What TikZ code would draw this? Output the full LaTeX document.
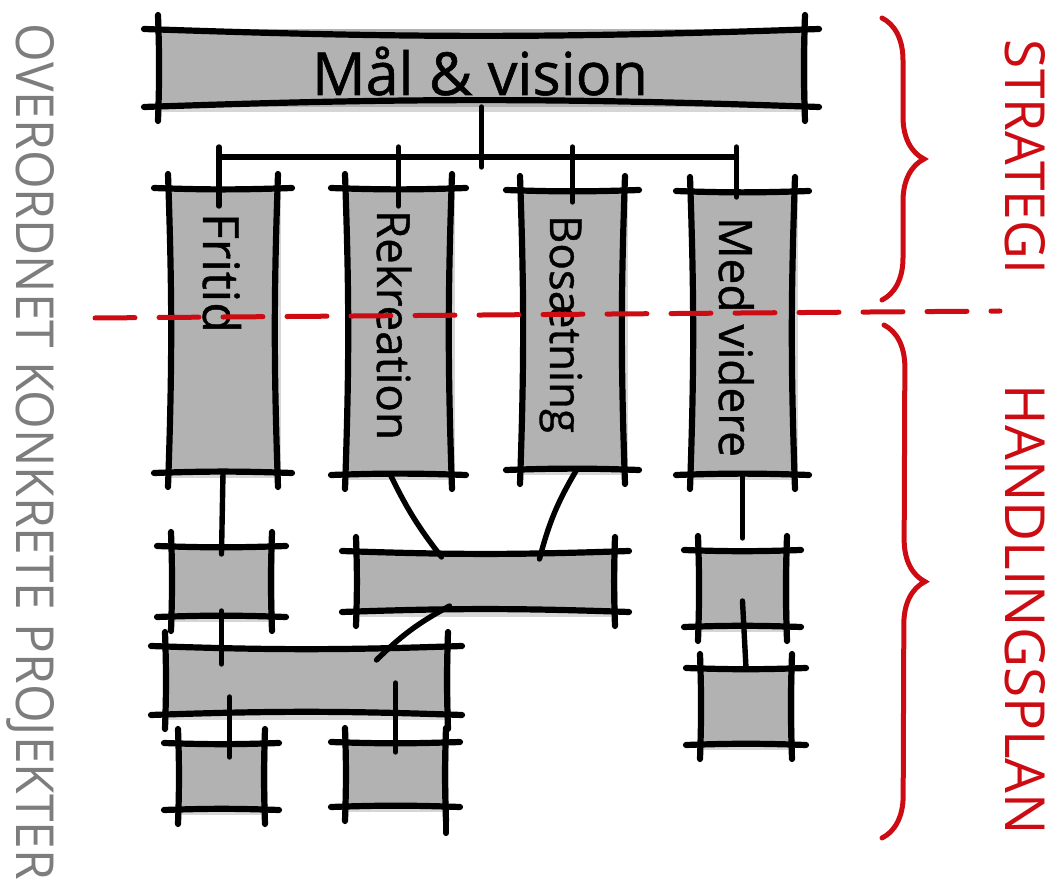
\documentclass[tikz,border=0pt]{standalone}
\usepackage{graphicx}
\usepackage{fontspec}
\setmainfont{Open Sans}
\newfontfamily\sketchfont{Open Sans}[FakeBold=0.9]
\usetikzlibrary{fit,decorations.pathreplacing}
\definecolor{boxgray}{RGB}{178,178,178}
\definecolor{shadegray}{RGB}{214,214,214}
\definecolor{sketchred}{RGB}{204,12,18}
\definecolor{labelgray}{RGB}{125,125,125}
\tikzset{
  boxfill/.style={fill=boxgray, draw=none, inner sep=0pt, outer sep=0pt},
  boxedge/.style={line width=3.1pt, line cap=round, black},
  link/.style={line width=2.7pt, line cap=round, black},
  redmark/.style={line width=2.5pt, line cap=round, sketchred},
  vlabel/.style={rotate=-90, anchor=base west, inner sep=0pt, outer sep=0pt, font=\sketchfont\fontsize{20}{20}\selectfont},
  sidelabel/.style={rotate=-90, inner sep=0pt, outer sep=0pt},
}
\newcommand\sketchbox[5]{%
  \fill[shadegray, xshift=1.5pt, yshift=-2.5pt] (#2,#3) rectangle (#4,#5);
  \node[boxfill, fit={(#2,#3) (#4,#5)}] (#1) {};
  \draw[boxedge] ([xshift=-7pt]#1.north west) to[bend right=2] ([xshift=7pt]#1.north east);
  \draw[boxedge] ([xshift=-7pt]#1.south west) to[bend left=2] ([xshift=7pt]#1.south east);
  \draw[boxedge] ([yshift=7pt]#1.north west) to[bend left=2] ([yshift=-7pt]#1.south west);
  \draw[boxedge] ([yshift=7pt]#1.north east) to[bend right=2] ([yshift=-7pt]#1.south east);
}
\begin{document}
\begin{tikzpicture}[x=0.5pt, y=-0.5pt]
\useasboundingbox (0,0) rectangle (1051,887);

% boxes
\sketchbox{mal}{158}{29}{805}{107}
\sketchbox{fritid}{168}{188}{278}{473}
\sketchbox{rek}{345}{188}{452}{475}
\sketchbox{bos}{520}{190}{625}{470}
\sketchbox{med}{690}{191}{795}{475}
\sketchbox{A}{171}{546}{272}{617}
\sketchbox{B}{356}{551}{615}{612}
\sketchbox{C}{698}{550}{787}{627}
\sketchbox{D}{165}{646}{448}{715}
\sketchbox{E}{700}{668}{792}{745}
\sketchbox{F}{178}{743}{265}{810}
\sketchbox{G}{345}{742}{446}{807}
\draw[boxedge] (G.south east) -- ([yshift=-13pt]G.south east);

% tree connectors
\coordinate (barW) at (218,157);
\draw[link] ([xshift=-2pt]fritid.north |- barW) -- ([xshift=-3pt]med.north |- barW);
\draw[link] (mal.south) -- ([yshift=-5pt]mal.south |- barW);
\draw[link] ([xshift=-2pt,yshift=5pt]fritid.north |- barW) -- ([xshift=-2pt,yshift=-9pt]fritid.north);
\draw[link] ([yshift=5pt]rek.north |- barW) -- ([yshift=-9pt]rek.north);
\draw[link] ([yshift=5pt]bos.north |- barW) -- ([yshift=-6pt]bos.north);
\draw[link] ([xshift=-3pt,yshift=5pt]med.north |- barW) -- ([xshift=-3pt,yshift=-3pt]med.north);

\draw[link] (fritid.south) -- ([yshift=-4pt]A.north);
\draw[link] ([xshift=-4pt]rek.south) to[bend right=6] ([xshift=-22pt,yshift=-3pt]B.north);
\draw[link] ([xshift=2pt]bos.south) to[bend right=8] ([xshift=27pt,yshift=-4pt]B.north);
\draw[link] (med.south) -- ([yshift=6pt]C.north);
\draw[link] ([xshift=-18pt,yshift=3pt]B.south) to[bend right=8] ([xshift=35pt,yshift=-7pt]D.north);
\draw[link] ([yshift=3pt]A.south) -- ([yshift=-9pt]A.south |- D.north);
\draw[link] ([yshift=13pt]C.south) -- (E.north);
\draw[link] ([xshift=4pt,yshift=9pt]F.north |- D.south) -- ([xshift=4pt,yshift=-7pt]F.north);
\draw[link] ([yshift=16pt]G.north |- D.south) -- ([yshift=-5pt]G.north);

% texts
\node[inner sep=0pt, outer sep=0pt, anchor=base west, font=\sketchfont\fontsize{30}{30}\selectfont] (maltext) at (312,95) {\resizebox{168pt}{!}{Mål \& vision}};
\node[vlabel] (tfritid) at (203,213) {\resizebox{60pt}{!}{Fritid}};
\node[vlabel] (trek) at (377,210) {\resizebox{115pt}{!}{Rekreation}};
\node[vlabel] (tbos) at (550,215) {\resizebox{109pt}{!}{Bosætning}};
\node[vlabel] (tmed) at (719,217) {\resizebox{120pt}{!}{Med videre}};

% red dashed separator
\coordinate (dashW) at (95,318);
\coordinate (dashE) at (1000,311);
\draw[redmark, dash pattern=on 20pt off 12pt] (dashW) -- (dashE);

% braces
\draw[redmark, decorate, decoration={brace, amplitude=21pt}] (882,18) -- (882,300);
\draw[redmark, decorate, decoration={brace, amplitude=21pt}] (884,325) -- (882,838);

% side labels
\node[sidelabel, text=sketchred] (strategi) at (1025,157) {\resizebox{117pt}{20pt}{STRATEGI}};
\node[sidelabel, text=sketchred] (handling) at (1025,610) {\resizebox{225pt}{20pt}{HANDLINGSPLAN}};
\node[sidelabel, text=labelgray] (overordnet) at (31,452) {\resizebox{428pt}{19pt}{OVERORDNET KONKRETE PROJEKTER}};
\end{tikzpicture}
\end{document}
